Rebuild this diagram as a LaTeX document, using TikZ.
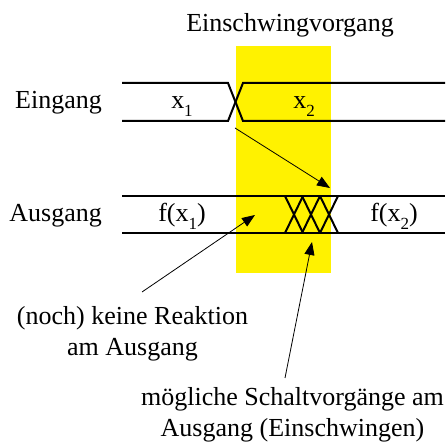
\documentclass[tikz,border=0pt]{standalone}
\usepackage{fontspec}
\setmainfont{Liberation Serif}
\usetikzlibrary{arrows.meta}
\newcommand\lowsub[1]{\raisebox{-8pt}{\fontsize{17}{17}\selectfont #1}}
\begin{document}
\begin{tikzpicture}[x=1pt,y=-1pt,
  lbl/.style={inner sep=0pt,font=\fontsize{26}{31}\selectfont},
  sig/.style={line width=2pt,line join=miter},
  ptr/.style={line width=0.8pt,-{Triangle[length=13pt,width=10pt]}}]
\useasboundingbox (0,0) rectangle (448,446);
% yellow transient zone
\fill[yellow] (236,46) rectangle (331,273);
% title
\node[lbl,anchor=base] (title) at (290,32) {Einschwingvorgang};
% input signal
\node[lbl,anchor=base east] (ein) at (102,109) {Eingang};
\draw[sig] (122,83) -- (228,83) -- (243,121) -- (445,121);
\draw[sig] (122,121) -- (228,121) -- (243,83) -- (445,83);
\node[lbl,anchor=base] (x1) at (182,109) {x\lowsub{1}};
\node[lbl,anchor=base] (x2) at (304,109) {x\lowsub{2}};
% output signal
\node[lbl,anchor=base east] (aus) at (102,222) {Ausgang};
\draw[sig] (122,196) -- (445,196);
\draw[sig] (122,233) -- (445,233);
\foreach \c in {294,311,329}{
  \draw[sig] (\c-9,196) -- (\c+9,233);
  \draw[sig] (\c-9,233) -- (\c+9,196);
}
\node[lbl,anchor=base] (fx1) at (182,222) {f(x\lowsub{1})};
\node[lbl,anchor=base] (fx2) at (394,222) {f(x\lowsub{2})};
% annotations (base anchor = baseline of last line)
\node[lbl,anchor=base,align=center] (noreact) at (132.5,356) {(noch) keine Reaktion\\am Ausgang};
\node[lbl,anchor=base,align=center] (switch) at (292.5,437) {mögliche Schaltvorgänge am\\Ausgang (Einschwingen)};
% arrows
\coordinate (a1s) at (235,128);
\coordinate (a1e) at (330,188);
\coordinate (a2s) at (142,292);
\coordinate (a2e) at (255,215);
\coordinate (a3s) at (285,378);
\coordinate (a3e) at (312,242);
\draw[ptr] (a1s) -- (a1e);
\draw[ptr] (a2s) -- (a2e);
\draw[ptr] (a3s) -- (a3e);
\end{tikzpicture}
\end{document}
